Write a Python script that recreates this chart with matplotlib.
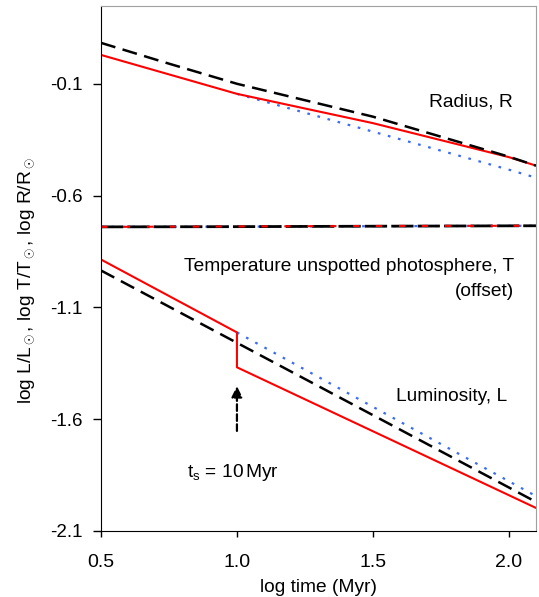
import numpy as np
import matplotlib.pyplot as plt

plt.rcParams['font.family'] = ['Liberation Sans', 'DejaVu Sans']
plt.rcParams['mathtext.fontset'] = 'custom'
plt.rcParams['mathtext.rm'] = 'Liberation Sans'
plt.rcParams['mathtext.it'] = 'Liberation Sans:italic'

# log time (Myr) and curves
rad_x = [0.5, 0.75, 1.0, 1.5, 2.0, 2.1]
rad_black = [0.083, -0.010, -0.100, -0.247, -0.426, -0.466]
rad_red = [0.029, -0.058, -0.145, -0.276, -0.428, -0.466]
rad_blue_x = [1.0, 1.5, 2.0, 2.1]
rad_blue = [-0.145, -0.314, -0.484, -0.520]

temp_x = [0.5, 1.0, 1.5, 2.1]
temp_black = [-0.740, -0.739, -0.737, -0.735]
temp_red = [-0.740, -0.738, -0.736, -0.735]
temp_blue = [-0.740, -0.739, -0.737, -0.735]

lum_x = [0.5, 2.1]
lum_black = [-0.935, -1.970]
lum_red_x = [0.5, 1.0, 1.0, 2.1]
lum_red = [-0.886, -1.212, -1.368, -1.997]
lum_blue_x = [1.0, 2.1]
lum_blue = [-1.212, -1.944]

xticks = [0.5, 1.0, 1.5, 2.0]
xticklabels = ['0.5', '1.0', '1.5', '2.0']
yticks = [-0.1, -0.6, -1.1, -1.6, -2.1]
yticklabels = ['-0.1', '-0.6', '-1.1', '-1.6', '-2.1']

fig = plt.figure(figsize=(5.39, 5.97), dpi=100)
ax = fig.add_axes([0.1874, 0.1106, 0.807, 0.8794])

blue = '#3c6cf0'
dash = dict(color='k', lw=1.8, dashes=(6, 3))
dots = dict(color=blue, lw=1.6, dashes=(1.2, 3.5))

# radius
ax.plot(rad_blue_x, rad_blue, **dots)
ax.plot(rad_x, rad_red, color='red', lw=1.5)
ax.plot(rad_x, rad_black, **dash)

# temperature
ax.plot(temp_x, temp_blue, **dots)
ax.plot(temp_x, temp_black, color='k', lw=2.0, dashes=(8, 1.5))
ax.plot(temp_x, temp_red, color='red', lw=1.5, dashes=(3, 8))

# luminosity
ax.plot(lum_blue_x, lum_blue, **dots)
ax.plot(lum_x, lum_black, **dash)
ax.plot(lum_red_x, lum_red, color='red', lw=1.5)

ax.annotate('', xy=(1.0, -1.44), xytext=(1.0, -1.665),
            arrowprops=dict(arrowstyle='-|>', color='k', lw=1.6,
                            linestyle=(0, (3, 1.5)), mutation_scale=16))

fs = 13.8
ax.text(2.013, -0.18, 'Radius, R', ha='right', va='center', fontsize=fs)
ax.text(2.02, -0.917, 'Temperature unspotted photosphere, T', ha='right',
        va='center', fontsize=fs)
ax.text(2.02, -1.029, '(offset)', ha='right', va='center', fontsize=fs)
ax.text(1.994, -1.497, 'Luminosity, L', ha='right', va='center', fontsize=fs)
ax.text(0.817, -1.837, r'$\mathrm{t_s}$ = 10$\,$Myr', ha='left', va='center',
        fontsize=fs)

ax.set_xlim(0.5, 2.1)
ax.set_ylim(-2.1, 0.248)
ax.set_xticks(xticks)
ax.set_xticklabels(xticklabels, fontsize=14)
ax.set_yticks(yticks)
ax.set_yticklabels(yticklabels, fontsize=13.5)
ax.tick_params(axis='y', direction='out', length=6, width=1, pad=7)
ax.tick_params(axis='x', direction='out', length=4.5, width=1, pad=12)
for s in ['top', 'right']:
    ax.spines[s].set_color('#a0a0a0')
ax.set_xlabel('log time (Myr)', fontsize=fs, labelpad=6)
ax.set_ylabel(r'log L/L$_\odot$, log T/T$_\odot$, log R/R$_\odot$', fontsize=fs)
ax.yaxis.set_label_coords(-0.148, 0.478)

fig.savefig('out.png', dpi=100)
